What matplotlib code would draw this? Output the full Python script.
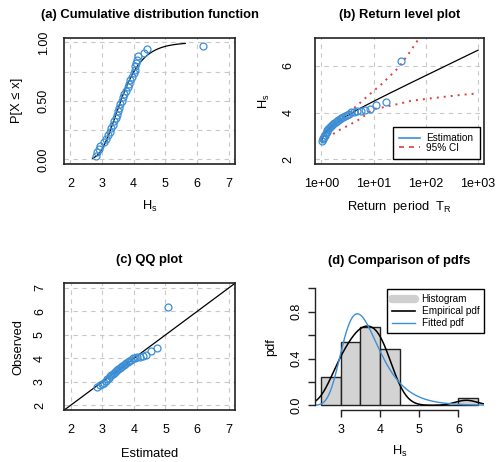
import numpy as np
import matplotlib
matplotlib.use('Agg')
import matplotlib.pyplot as plt
from matplotlib.lines import Line2D
from matplotlib.ticker import NullLocator

plt.rcParams['font.family'] = ['Liberation Sans', 'DejaVu Sans']
plt.rcParams['mathtext.fontset'] = 'custom'
plt.rcParams['mathtext.rm'] = 'Liberation Sans'
plt.rcParams['mathtext.it'] = 'Liberation Sans:italic'

# ---------------- data ----------------
hs_obs = [2.80, 2.85, 2.90, 2.95, 3.05, 3.12, 3.18, 3.24, 3.28, 3.34, 3.38,
          3.43, 3.47, 3.52, 3.55, 3.58, 3.62, 3.66, 3.71, 3.75, 3.81, 3.86,
          3.90, 3.95, 4.01, 4.03, 4.05, 4.08, 4.11, 4.15, 4.32, 4.43, 6.20]
gumbel_loc = 3.42
gumbel_scale = 0.47
kde_bandwidth = 0.28
hist_edges = [2.5, 3.0, 3.5, 4.0, 4.5, 5.0, 5.5, 6.0, 6.5]

ci_T = [1.03, 1.5, 2, 3, 5, 7, 10, 15, 30, 50, 100, 200, 500, 1000]
ci_upper = [3.05, 3.38, 3.60, 3.90, 4.33, 4.62, 4.92, 5.26, 5.92, 6.60, 7.60, 8.60, 10.0, 11.0]
ci_lower = [2.72, 3.00, 3.20, 3.40, 3.67, 3.89, 4.15, 4.22, 4.37, 4.49, 4.58, 4.66, 4.76, 4.82]

rp_ticks = [1, 10, 100, 1000]
rp_labels = ['1e+00', '1e+01', '1e+02', '1e+03']

BLUE = '#3d8fd6'
RED = '#e03c3c'
GRID = '#c8c8c8'
FRAME = '#222222'

hs = np.sort(np.array(hs_obs))
n = len(hs)
pp = np.arange(1, n + 1) / (n + 1)


def gumbel_cdf(x):
    return np.exp(-np.exp(-(x - gumbel_loc) / gumbel_scale))


def gumbel_pdf(x):
    z = (x - gumbel_loc) / gumbel_scale
    return np.exp(-z - np.exp(-z)) / gumbel_scale


def gumbel_q(p):
    return gumbel_loc - gumbel_scale * np.log(-np.log(p))


W, H = 502, 462
fig = plt.figure(figsize=(W / 100, H / 100), dpi=100)

TICK_FS = 9
LAB_FS = 9.3
TITLE_FS = 9.4


def add_ax(x0, y0, x1, y1):
    return fig.add_axes([x0 / W, 1 - y1 / H, (x1 - x0) / W, (y1 - y0) / H])


def style_box(ax):
    for s in ax.spines.values():
        s.set_linewidth(1.2)
        s.set_color(FRAME)
    ax.grid(True, color=GRID, linestyle=(0, (4, 4)), linewidth=0.8)
    ax.set_axisbelow(True)
    ax.tick_params(length=0, labelsize=TICK_FS)


def set_labels(ax, xlab, ylab, xoff, yoff, axw, axh):
    ax.set_xlabel(xlab, fontsize=LAB_FS, va='center')
    ax.xaxis.set_label_coords(0.5, -xoff / axh)
    ax.set_ylabel(ylab, fontsize=LAB_FS, va='center', ha='center')
    ax.yaxis.set_label_coords(-yoff / axw, 0.5)


marker_kw = dict(linestyle='none', marker='o', markersize=5, markerfacecolor='none',
                 markeredgecolor=BLUE, markeredgewidth=0.9)

# ---------------- (a) CDF ----------------
ax = add_ax(64, 37.7, 235, 164)
style_box(ax)
xc = np.linspace(2.7, 5.63, 300)
ax.plot(xc, gumbel_cdf(xc), color='black', lw=0.9)
ax.plot(hs, pp, **marker_kw)
ax.set_xlim(1.8, 7.2)
ax.set_ylim(-0.04, 1.04)
ax.set_xticks([2, 3, 4, 5, 6, 7], ['2', '3', '4', '5', '6', '7'], va='center')
ax.set_yticks([0, 0.25, 0.5, 0.75, 1.0], ['0.00', '', '0.50', '', '1.00'],
              rotation=90, va='center', ha='center')
ax.tick_params(axis='x', pad=14.4)
ax.tick_params(axis='y', pad=14.4)
set_labels(ax, r'H$_\mathrm{s}$', 'P[X ≤ x]', 42.7, 47, 171, 126.3)
ax.set_title('(a) Cumulative distribution function', fontweight='bold',
             fontsize=TITLE_FS, pad=14.5)

# ---------------- (b) Return level ----------------
ax = add_ax(315, 37.7, 484.3, 164)
style_box(ax)
ax.set_xscale('log')
Tl = np.logspace(np.log10(1.03), 3, 400)
ax.plot(Tl, gumbel_q(1 - 1 / Tl), color='black', lw=0.9)
ax.plot(ci_T, ci_upper, color=RED, lw=1.4, linestyle=(0, (1, 2.6)))
ax.plot(ci_T, ci_lower, color=RED, lw=1.4, linestyle=(0, (1, 2.6)))
ax.plot(1 / (1 - pp), hs, **marker_kw)
ax.set_xlim(10 ** -0.12, 10 ** 3.12)
ax.set_ylim(1.8, 7.2)
ax.xaxis.set_minor_locator(NullLocator())
ax.set_xticks(rp_ticks, rp_labels, va='center')
ax.set_yticks([2, 4, 6], ['2', '4', '6'], rotation=90, va='center', ha='center')
ax.tick_params(axis='x', pad=14.4)
ax.tick_params(axis='y', pad=19.2)
set_labels(ax, r'Return  period  T$_\mathrm{R}$', r'H$_\mathrm{s}$', 42.7, 50.7, 169.3, 126.3)
ax.set_title('(b) Return level plot', fontweight='bold', fontsize=TITLE_FS, pad=14.5)
hb = [Line2D([], [], color=BLUE, lw=1.2),
      Line2D([], [], color=RED, lw=1.2, linestyle=(0, (3, 3)))]
leg = ax.legend(hb, ['Estimation', '95% CI'], loc='lower right',
                bbox_to_anchor=(0.9746, 0.037), borderaxespad=0, fontsize=7.2,
                handlelength=2.06, handletextpad=0.68, borderpad=0.65,
                labelspacing=-0.02, fancybox=False, framealpha=1,
                edgecolor='black')
leg.get_frame().set_linewidth(1.0)

# ---------------- (c) QQ ----------------
ax = add_ax(64.3, 283.3, 235, 410)
style_box(ax)
ax.plot([1.8, 7.2], [1.8, 7.2], color='black', lw=0.9)
ax.plot(gumbel_q(pp), hs, **marker_kw)
ax.set_xlim(1.8, 7.2)
ax.set_ylim(1.8, 7.2)
ticks = [2, 3, 4, 5, 6, 7]
ax.set_xticks(ticks, [str(t) for t in ticks], va='center')
ax.set_yticks(ticks, [str(t) for t in ticks], rotation=90, va='center', ha='center')
ax.tick_params(axis='x', pad=14.4)
ax.tick_params(axis='y', pad=17.5)
set_labels(ax, 'Estimated', 'Observed', 44, 46, 170.7, 126.7)
ax.set_title('(c) QQ plot', fontweight='bold', fontsize=TITLE_FS, pad=14.5)

# ---------------- (d) pdfs ----------------
ax = add_ax(315, 283.7, 484.3, 410)
ax.hist(hs, bins=hist_edges, density=True, color='#d3d3d3', edgecolor=FRAME, linewidth=1.0)
xk = np.linspace(2.34, 6.66, 500)
kde = np.exp(-0.5 * ((xk[:, None] - hs[None, :]) / kde_bandwidth) ** 2).sum(axis=1) / (
    n * kde_bandwidth * np.sqrt(2 * np.pi))
ax.plot(xk, kde, color='black', lw=1.1)
ax.plot(xk, gumbel_pdf(xk), color=BLUE, lw=1.0)
ax.set_xlim(2.34, 6.66)
ax.set_ylim(-0.04, 1.04)
for s in ['top', 'right']:
    ax.spines[s].set_visible(False)
for s in ['left', 'bottom']:
    ax.spines[s].set_linewidth(1.0)
    ax.spines[s].set_color(FRAME)
ax.spines['left'].set_bounds(0, 1)
ax.spines['bottom'].set_bounds(3, 6)
ax.set_xticks([3, 4, 5, 6], ['3', '4', '5', '6'], va='center')
ax.set_yticks([0, 0.2, 0.4, 0.6, 0.8, 1.0], ['0.0', '', '0.4', '', '0.8', ''],
              rotation=90, va='center', ha='center')
ax.tick_params(length=5, width=1.0, color=FRAME, labelsize=TICK_FS)
ax.tick_params(axis='x', pad=9.4)
ax.tick_params(axis='y', pad=8.6)
set_labels(ax, r'H$_\mathrm{s}$', 'pdf', 41, 44, 169.3, 126.3)
ax.set_title('(d) Comparison of pdfs', fontweight='bold', fontsize=TITLE_FS, pad=14.5)
hd = [Line2D([], [], color='#cfcfcf', lw=6, solid_capstyle='round'),
      Line2D([], [], color='black', lw=1.2),
      Line2D([], [], color=BLUE, lw=1.0)]
leg = ax.legend(hd, ['Histogram', 'Empirical pdf', 'Fitted pdf'], loc='upper right',
                bbox_to_anchor=(1.0, 0.958), borderaxespad=0, fontsize=7.2,
                handlelength=2.3, handletextpad=0.65, borderpad=0.5,
                labelspacing=0.2, fancybox=False, framealpha=1, edgecolor='black')
leg.get_frame().set_linewidth(1.0)

fig.savefig('out.png', dpi=100)
